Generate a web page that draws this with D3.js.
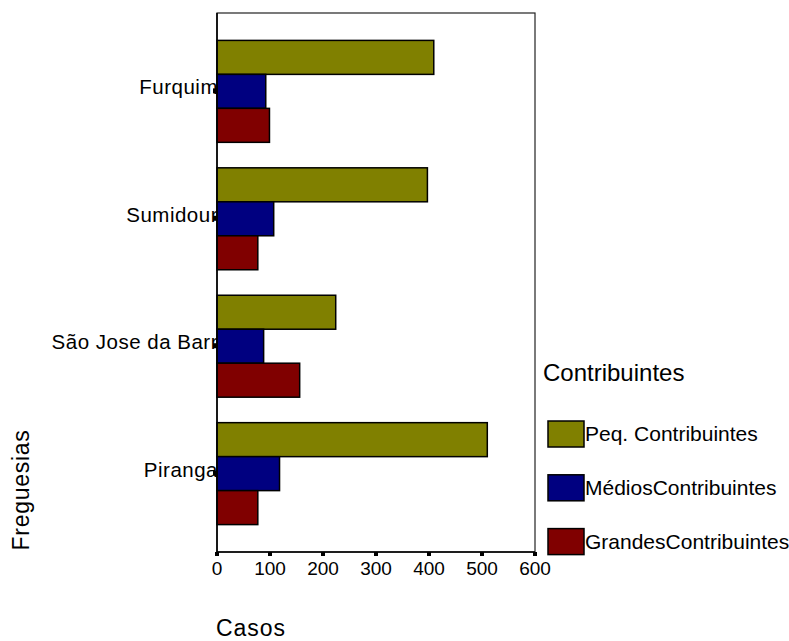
<!DOCTYPE html>
<html>
<head>
<meta charset="utf-8">
<script src="https://cdn.jsdelivr.net/npm/d3@7"></script>
<style>
    body { margin: 0; background: #fff; }
    svg text { font-family: "Liberation Sans", Arial, sans-serif; fill: #000; }
</style>
</head>
<body>
<svg class="chart" width="789" height="641"></svg>
<script>
(function () {

    'use strict';

    // data
    var categories = ["Furquim", "Sumidour", "São Jose da Barr", "Piranga"];
    var seriesNames = ["Peq. Contribuintes", "MédiosContribuintes", "GrandesContribuintes"];
    var peq = [409, 397, 224, 510];
    var medios = [92, 107, 88, 118];
    var grandes = [99, 77, 156, 77];
    var xTicks = [0, 100, 200, 300, 400, 500, 600];
    var colors = ["#808000", "#000080", "#800000"];

    var values = [peq, medios, grandes];

    var svg = d3.select("svg.chart");
    var left = 217, right = 535, top = 13, bottom = 552;

    var x = d3.scaleLinear().domain([0, 600]).range([left, right]);
    var y0 = d3.scaleBand().domain(categories).range([top, bottom])
        .paddingInner(0.2).paddingOuter(0.215);
    var y1 = d3.scaleBand().domain(seriesNames).range([0, y0.bandwidth()]);
    var z = d3.scaleOrdinal().domain(seriesNames).range(colors);

    svg.append("defs").append("clipPath")
        .attr("id", "labelclip")
        .append("rect")
        .attr("x", 0).attr("y", 0)
        .attr("width", left).attr("height", 641);

    // frame
    svg.append("rect")
        .attr("x", left)
        .attr("y", top)
        .attr("width", right - left)
        .attr("height", bottom - top)
        .attr("fill", "none")
        .attr("stroke", "#222")
        .attr("stroke-width", 1.2);

    // bars
    svg.append("g")
        .selectAll("g")
        .data(categories)
        .enter().append("g")
        .attr("transform", function (d) { return "translate(0," + y0(d) + ")"; })
        .selectAll("rect")
        .data(function (d, i) {
            return seriesNames.map(function (key, k) { return { key: key, value: values[k][i] }; });
        })
        .enter().append("rect")
        .attr("x", x(0))
        .attr("y", function (d) { return y1(d.key); })
        .attr("width", function (d) { return x(d.value) - x(0); })
        .attr("height", y1.bandwidth())
        .attr("fill", function (d) { return z(d.key); })
        .attr("stroke", "#000")
        .attr("stroke-width", 1.5);

    // left and bottom axis lines
    svg.append("line")
        .attr("x1", left).attr("x2", left)
        .attr("y1", top).attr("y2", bottom)
        .attr("stroke", "#000").attr("stroke-width", 1.6);
    svg.append("line")
        .attr("x1", left).attr("x2", right)
        .attr("y1", bottom).attr("y2", bottom)
        .attr("stroke", "#000").attr("stroke-width", 1.6);

    // category labels (cut at the axis like the original)
    svg.append("g")
        .attr("clip-path", "url(#labelclip)")
        .selectAll("text")
        .data(categories)
        .enter().append("text")
        .attr("x", left + 1)
        .attr("y", function (d) { return y0(d) + y0.bandwidth() / 2 + 3; })
        .attr("text-anchor", "end")
        .attr("font-size", 20.5)
        .attr("letter-spacing", 0.5)
        .text(function (d) { return d; });

    // y tick marks
    svg.append("g")
        .selectAll("rect")
        .data(categories)
        .enter().append("rect")
        .attr("x", left - 4)
        .attr("y", function (d) { return y0(d) + y0.bandwidth() / 2 - 3; })
        .attr("width", 4)
        .attr("height", 5)
        .attr("fill", "#000");

    // x ticks
    var xt = svg.append("g")
        .selectAll("g")
        .data(xTicks)
        .enter().append("g")
        .attr("transform", function (d) { return "translate(" + x(d) + "," + bottom + ")"; });
    xt.append("rect")
        .attr("x", -2)
        .attr("y", 0)
        .attr("width", 4)
        .attr("height", 4)
        .attr("fill", "#000");
    xt.append("text")
        .attr("y", 23)
        .attr("text-anchor", "middle")
        .attr("font-size", 19)
        .text(function (d) { return d; });

    // axis titles
    svg.append("text")
        .attr("x", 251)
        .attr("y", 636)
        .attr("text-anchor", "middle")
        .attr("font-size", 23)
        .attr("letter-spacing", 1)
        .text("Casos");

    svg.append("text")
        .attr("transform", "translate(29,490) rotate(-90)")
        .attr("text-anchor", "middle")
        .attr("font-size", 23)
        .attr("letter-spacing", 0.7)
        .text("Freguesias");

    // legend
    svg.append("text")
        .attr("x", 543)
        .attr("y", 381)
        .attr("font-size", 24)
        .text("Contribuintes");

    var legend = svg.append("g")
        .selectAll("g")
        .data(seriesNames)
        .enter().append("g")
        .attr("transform", function (d, i) { return "translate(548," + (421 + i * 53.8) + ")"; });

    legend.append("rect")
        .attr("width", 36)
        .attr("height", 26)
        .attr("fill", z)
        .attr("stroke", "#000")
        .attr("stroke-width", 1.5);

    legend.append("text")
        .attr("x", 37)
        .attr("y", 20)
        .attr("font-size", 21)
        .text(function (d) { return d; });

})();
</script>
</body>
</html>
